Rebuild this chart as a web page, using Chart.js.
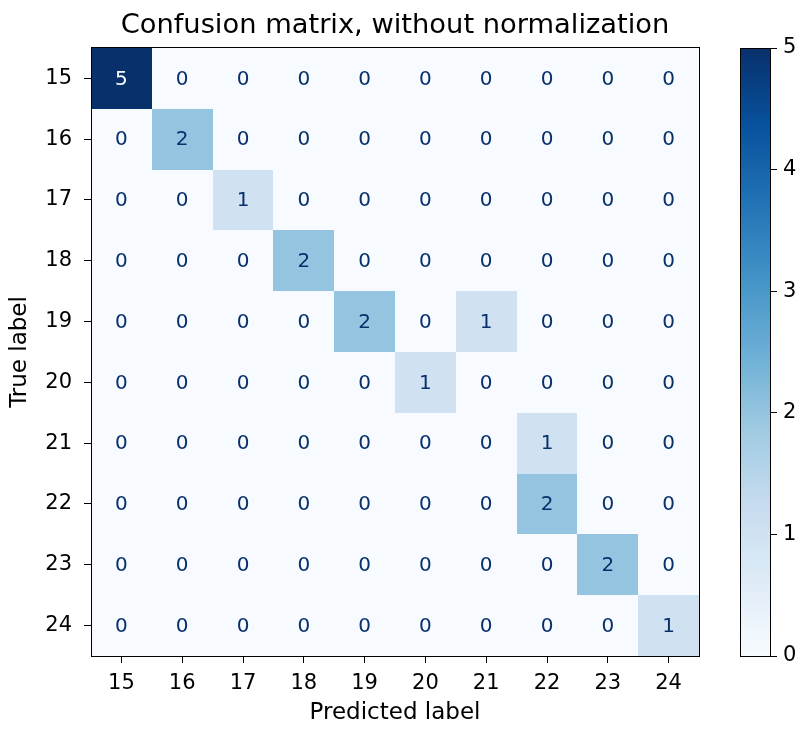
<!DOCTYPE html>
<html><head><meta charset="utf-8">
<script src="https://cdn.jsdelivr.net/npm/chart.js@4/dist/chart.umd.min.js"></script>
<style>
html,body{margin:0;padding:0;background:#fff;}
#wrap{position:relative;width:804px;height:729px;overflow:hidden;}
#cm{position:absolute;left:0;top:0;}
#cb{position:absolute;left:700px;top:0;}
</style></head><body>
<div id="wrap"><canvas id="cm" width="720" height="729"></canvas><canvas id="cb" width="104" height="729"></canvas></div>
<script>
const predictedLabels = ['15','16','17','18','19','20','21','22','23','24'];
const trueLabels = ['15','16','17','18','19','20','21','22','23','24'];
const counts = [
  [5,0,0,0,0,0,0,0,0,0],
  [0,2,0,0,0,0,0,0,0,0],
  [0,0,1,0,0,0,0,0,0,0],
  [0,0,0,2,0,0,0,0,0,0],
  [0,0,0,0,2,0,1,0,0,0],
  [0,0,0,0,0,1,0,0,0,0],
  [0,0,0,0,0,0,0,1,0,0],
  [0,0,0,0,0,0,0,2,0,0],
  [0,0,0,0,0,0,0,0,2,0],
  [0,0,0,0,0,0,0,0,0,1]
];
const colorbarTicks = [0,1,2,3,4,5];

const BLUES = ['#f7fbff','#deebf7','#c6dbef','#9ecae1','#6baed6','#4292c6','#2171b5','#08519c','#08306b'];
function hexToRgb(h){return [parseInt(h.slice(1,3),16),parseInt(h.slice(3,5),16),parseInt(h.slice(5,7),16)];}
function blues(t){
  t=Math.max(0,Math.min(1,t));
  const n=BLUES.length-1, p=t*n, i=Math.min(n-1,Math.floor(p)), f=p-i;
  const a=hexToRgb(BLUES[i]), b=hexToRgb(BLUES[i+1]);
  const c=a.map((v,k)=>Math.round(v+(b[k]-v)*f));
  return 'rgb('+c.join(',')+')';
}
const vmin = Math.min(...counts.flat()), vmax = Math.max(...counts.flat());

Chart.defaults.font.family = "'DejaVu Sans', sans-serif";
Chart.defaults.color = '#000';

const points = [];
counts.forEach((row,r)=>row.forEach((v,c)=>points.push({x:predictedLabels[c], y:trueLabels[r], v})));

const al = v => Math.round(v-0.5)+0.5;

const cellPlugin = {
  id:'cells',
  beforeDatasetsDraw(chart){
    const {ctx, chartArea:a} = chart;
    const w=(a.right-a.left)/predictedLabels.length, h=(a.bottom-a.top)/trueLabels.length;
    const meta=chart.getDatasetMeta(0);
    ctx.save();
    meta.data.forEach((pt,i)=>{
      const d=chart.data.datasets[0].data[i];
      const x0=Math.round(pt.x-w/2), x1=Math.round(pt.x+w/2), y0=Math.round(pt.y-h/2), y1=Math.round(pt.y+h/2);
      ctx.fillStyle=blues((d.v-vmin)/(vmax-vmin));
      ctx.fillRect(x0,y0,x1-x0,y1-y0);
    });
    ctx.font="20px 'DejaVu Sans'";
    ctx.textAlign='center'; ctx.textBaseline='middle';
    const thresh=(vmax+vmin)/2;
    meta.data.forEach((pt,i)=>{
      const d=chart.data.datasets[0].data[i];
      ctx.fillStyle = d.v>thresh ? blues(0) : blues(1);
      ctx.fillText(String(d.v), pt.x, pt.y+1);
    });
    ctx.restore();
  },
  afterDraw(chart){
    const {ctx, chartArea:a} = chart;
    ctx.save(); ctx.strokeStyle='#000'; ctx.lineWidth=1;
    ctx.strokeRect(al(a.left), al(a.top), al(a.right)-al(a.left), al(a.bottom)-al(a.top));
    ctx.restore();
  }
};

new Chart(document.getElementById('cm'), {
  type:'scatter',
  data:{datasets:[{data:points, pointRadius:0, pointHoverRadius:0}]},
  plugins:[cellPlugin],
  options:{
    responsive:false, animation:false, events:[],
    layout:{padding:{left:0,right:21,top:0,bottom:0}},
    plugins:{
      legend:{display:false}, tooltip:{enabled:false},
      title:{display:true, fullSize:false, text:'Confusion matrix, without normalization', color:'#000',
        font:{size:27.3, weight:'normal'}, padding:{top:9.5,bottom:5.7}}
    },
    scales:{
      x:{type:'category', labels:predictedLabels, offset:true, position:'bottom',
        grid:{offset:false, drawOnChartArea:false, drawTicks:true, tickLength:7, color:'#000', lineWidth:1},
        border:{display:true, color:'#000'},
        ticks:{padding:8, color:'#000', font:{size:21}, autoSkip:false, maxRotation:0},
        title:{display:true, text:'Predicted label', color:'#000', font:{size:23}, padding:{top:0,bottom:2}},
        afterFit(s){s.height=73;}},
      y:{type:'category', labels:trueLabels, offset:true, position:'left',
        grid:{offset:false, drawOnChartArea:false, drawTicks:true, tickLength:7, color:'#000', lineWidth:1},
        border:{display:true, color:'#000'},
        ticks:{padding:12, color:'#000', font:{size:21}, autoSkip:false},
        title:{display:true, text:'True label', color:'#000', font:{size:23}, padding:{top:6,bottom:0}},
        afterFit(s){s.width=91;}}
    }
  }
});

const cbFrame = {
  id:'cbFrame',
  afterDraw(chart){
    const {ctx, chartArea:a} = chart;
    ctx.save(); ctx.strokeStyle='#000'; ctx.lineWidth=1;
    ctx.strokeRect(al(a.left), al(a.top), al(a.right)-al(a.left), al(a.bottom)-al(a.top));
    ctx.restore();
  }
};

new Chart(document.getElementById('cb'), {
  type:'bar',
  data:{labels:[''], datasets:[{
    data:[[vmin,vmax]], borderWidth:0, barPercentage:1, categoryPercentage:1,
    backgroundColor(c){
      const a=c.chart.chartArea; if(!a) return blues(0.5);
      const g=c.chart.ctx.createLinearGradient(0,a.bottom,0,a.top);
      for(let i=0;i<=40;i++){g.addColorStop(i/40, blues(i/40));}
      return g;
    }}]},
  plugins:[cbFrame],
  options:{
    responsive:false, animation:false, events:[],
    layout:{padding:{left:40,right:0,top:48,bottom:73}},
    plugins:{legend:{display:false}, tooltip:{enabled:false}},
    scales:{
      x:{display:false},
      y:{position:'right', min:vmin, max:vmax,
        afterBuildTicks(s){s.ticks=colorbarTicks.map(v=>({value:v}));},
        grid:{drawOnChartArea:false, drawTicks:true, tickLength:7, color:'#000'},
        border:{display:true, color:'#000'},
        ticks:{padding:6, color:'#000', font:{size:21}},
        afterFit(s){s.width=34;}}
    }
  }
});
</script>
</body></html>
